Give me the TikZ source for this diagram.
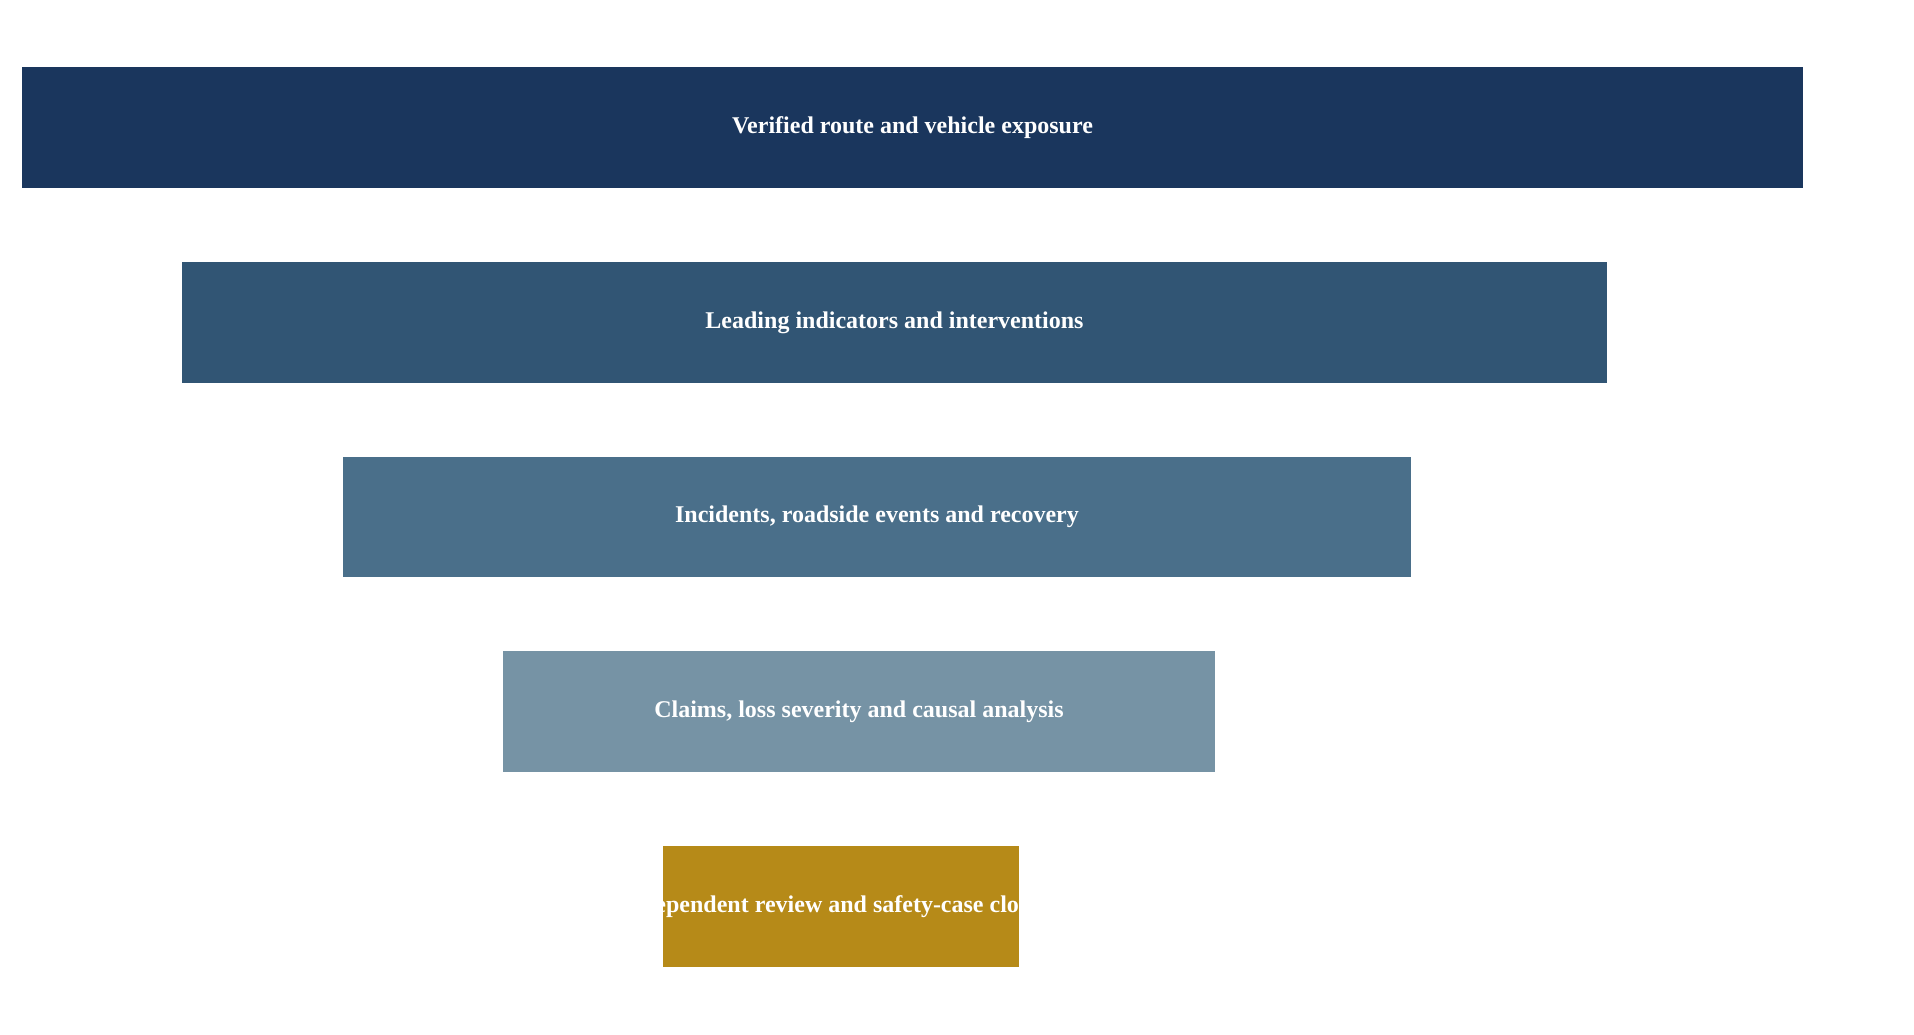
\documentclass[tikz,border=0pt]{standalone}
\usepackage{fontspec}
\setmainfont{Liberation Serif}
\usepackage{tikz}
\usetikzlibrary{positioning}
\definecolor{layerA}{HTML}{1A365D}
\definecolor{layerB}{HTML}{315574}
\definecolor{layerC}{HTML}{4A6F8A}
\definecolor{layerD}{HTML}{7693A5}
\definecolor{layerE}{HTML}{B68A18}
\tikzset{label text/.style={text=white, font=\fontsize{24}{28}\selectfont\bfseries, inner sep=0pt}}

\begin{document}
\begin{tikzpicture}[x=1pt, y=-1pt]
\useasboundingbox (0,0) rectangle (1914,1034);

\path [fill=layerA] (22,67) rectangle (1803,188);
\path [fill=layerB] (182,262) rectangle (1607,383);
\path [fill=layerC] (343,457) rectangle (1411,577);
\path [fill=layerD] (503,651) rectangle (1215,772);
\path [fill=layerE] (663,846) rectangle (1019,967);

\node [label text] (exposure) at (912.5,127.5) {Verified route and vehicle exposure};
\node [label text] (leading) at (894.5,322.5) {Leading indicators and interventions};
\node [label text] (incidents) at (877,517) {Incidents, roadside events and recovery};
\node [label text] (claims) at (859,711.5) {Claims, loss severity and causal analysis};
\begin{scope}
\clip (663,846) rectangle (1019,967);
\node [label text] (closure) at (841,906.5) {Independent review and safety-case closure};
\end{scope}
\end{tikzpicture}
\end{document}
